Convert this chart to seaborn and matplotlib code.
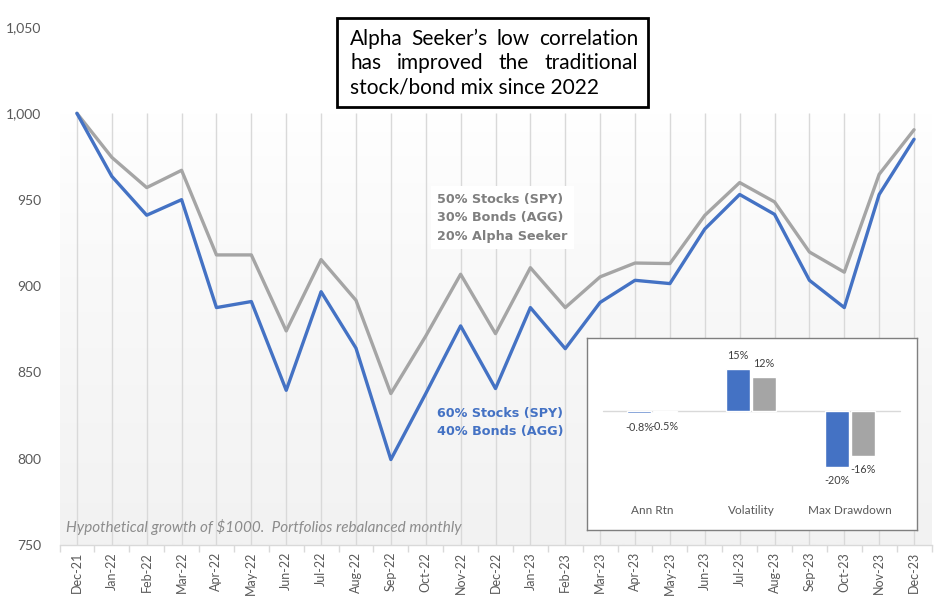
import numpy as np
import pandas as pd
import matplotlib
matplotlib.use("Agg")
import matplotlib.pyplot as plt
import seaborn as sns
from matplotlib.colors import LinearSegmentedColormap
from matplotlib.patches import Rectangle

# ---------------- data ----------------
months = ["Dec-21", "Jan-22", "Feb-22", "Mar-22", "Apr-22", "May-22", "Jun-22",
          "Jul-22", "Aug-22", "Sep-22", "Oct-22", "Nov-22", "Dec-22", "Jan-23",
          "Feb-23", "Mar-23", "Apr-23", "May-23", "Jun-23", "Jul-23", "Aug-23",
          "Sep-23", "Oct-23", "Nov-23", "Dec-23"]
mix_60_40 = [1000, 963.5, 941, 950, 887.5, 891, 839.6, 896.7, 864, 799.5, 837.7,
             876.9, 840.6, 887.5, 863.7, 890.5, 903.3, 901.4, 933, 953, 941.5,
             903.3, 887.5, 953, 985]
mix_alpha = [1000, 974.5, 957, 967, 918, 918, 874, 915.3, 891.7, 837.7, 871,
             906.8, 872.4, 910.6, 887.5, 905.3, 913.3, 913, 940.9, 959.9, 948.7,
             919.7, 908, 964.7, 990.5]
y_ticks = [750, 800, 850, 900, 950, 1000, 1050]

stat_names = ["Ann Rtn", "Volatility", "Max Drawdown"]
stat_60_40 = [-0.8, 15, -20]
stat_alpha = [-0.5, 12, -16]

title_lines = ["Alpha Seeker\u2019s low correlation",
               "has improved the traditional",
               "stock/bond mix since 2022"]
label_alpha = "50% Stocks (SPY)\n30% Bonds (AGG)\n20% Alpha Seeker"
label_6040 = "60% Stocks (SPY)\n40% Bonds (AGG)"
note = "Hypothetical growth of $1000.  Portfolios rebalanced monthly"

BLUE = "#4472C4"
GRAY = "#A5A5A5"
TXT = "#595959"

sns.set_theme(style="white")
plt.rcParams["font.family"] = ["Lato", "DejaVu Sans"]

W, H = 942, 613
fig = plt.figure(figsize=(W / 100, H / 100), dpi=100)
fig.patch.set_facecolor("white")

def fx(px):
    return px / W

def fy(py):
    return 1 - py / H

# main axes: x from 59.5 to 931.5 px, y from 27 (1050) to 545 (750)
ax = fig.add_axes([fx(59.5), fy(545), fx(931.5 - 59.5), (545 - 27) / H])
ax.set_facecolor("none")

# gradient background (plot area fill): white at top, light gray at bottom
cmap = LinearSegmentedColormap.from_list("bg", ["#ffffff", "#f2f2f2"])
grad = np.linspace(1, 0, 256).reshape(-1, 1) ** 0.8
ax.imshow(grad, cmap=cmap, aspect="auto", extent=(-0.5, len(months) - 0.5, 750, 1000),
          origin="lower", zorder=0, interpolation="bilinear")
ax.set_xlim(-0.5, len(months) - 0.5)
ax.set_ylim(750, 1050)

# vertical gridlines
x = np.arange(len(months))
ax.vlines(x, 750, 1000, color="#d9d9d9", lw=1, zorder=1)

df = pd.DataFrame({"x": np.concatenate([x, x]),
                   "value": mix_60_40 + mix_alpha,
                   "series": ["60/40"] * len(x) + ["alpha"] * len(x)})
sns.lineplot(data=df, x="x", y="value", hue="series",
             palette={"60/40": BLUE, "alpha": GRAY},
             hue_order=["alpha", "60/40"], lw=2.4, legend=False, ax=ax, zorder=3)

ax.set_xlabel("")
ax.set_ylabel("")
ax.set_xticks(x)
ax.set_xticklabels(months, rotation=90, fontsize=9, color=TXT)
ax.set_xticks(np.arange(-0.5, len(months), 1), minor=True)
ax.tick_params(axis="x", which="major", length=0, pad=5)
ax.tick_params(axis="x", which="minor", length=5, color="#d9d9d9", width=1, bottom=True)
ax.set_yticks(y_ticks)
ax.set_yticklabels([f"{v:,}" for v in y_ticks], fontsize=10, color=TXT)
ax.tick_params(axis="y", length=0, pad=13)
for s in ["top", "right", "left"]:
    ax.spines[s].set_visible(False)
ax.spines["bottom"].set_color("#d9d9d9")
ax.spines["bottom"].set_linewidth(1)

# series labels
ax.text(10.32, 939.5, label_alpha, color="#7f7f7f", fontsize=9.2, fontweight="bold",
        family="DejaVu Sans", va="center", ha="left", linespacing=1.55, zorder=5,
        bbox=dict(boxstyle="square,pad=0.5", fc="white", ec="none"))
ax.text(10.32, 821, label_6040, color=BLUE, fontsize=9.2, fontweight="bold",
        family="DejaVu Sans", va="center", ha="left", linespacing=1.55, zorder=5)
ax.text(-0.3, 760.5, note, color="#8c8c8c", fontsize=11, style="italic",
        va="center", ha="left", zorder=5)

# ---------------- title box ----------------
fig.patches.append(Rectangle((fx(337), fy(107)), fx(648 - 337), (107 - 18) / H,
                             transform=fig.transFigure, fc="white", ec="black",
                             lw=2, zorder=10))
fig.canvas.draw()
renderer = fig.canvas.get_renderer()
left_px, right_px = 350, 638
line_y = [39, 63, 88]
for i, line in enumerate(title_lines):
    words = line.split(" ")
    if i < len(title_lines) - 1:
        texts = [fig.text(0, fy(line_y[i]), w, fontsize=15, va="center", ha="left",
                          color="black", zorder=11) for w in words]
        widths = [t.get_window_extent(renderer).width for t in texts]
        gap = (right_px - left_px - sum(widths)) / (len(words) - 1)
        pos = left_px
        for t, wdt in zip(texts, widths):
            t.set_x(fx(pos))
            pos += wdt + gap
    else:
        fig.text(fx(left_px), fy(line_y[i]), line, fontsize=15, va="center",
                 ha="left", color="black", zorder=11)

# ---------------- inset bar chart ----------------
box_l, box_r, box_t, box_b = 587, 917, 338, 530
ppu_x = 99.0
c0 = 652.0
zero_py = 411.0
ppu_y = 2.8
iax = fig.add_axes([fx(box_l), fy(box_b), fx(box_r - box_l), (box_b - box_t) / H])
iax.set_facecolor("white")

bdf = pd.DataFrame({"stat": stat_names * 2,
                    "value": stat_60_40 + stat_alpha,
                    "series": ["60/40"] * 3 + ["alpha"] * 3})
sns.barplot(data=bdf, x="stat", y="value", hue="series", order=stat_names,
            hue_order=["60/40", "alpha"], palette={"60/40": BLUE, "alpha": GRAY},
            width=0.52, gap=0.06, saturation=1, legend=False, ax=iax, zorder=3)
iax.set_xlim((box_l - c0) / ppu_x, (box_r - c0) / ppu_x)
iax.set_ylim(-(box_b - zero_py) / ppu_y, (zero_py - box_t) / ppu_y)
x0 = (603 - box_l) / (box_r - box_l)
x1 = (900 - box_l) / (box_r - box_l)
iax.axhline(0, xmin=x0, xmax=x1, color="#d9d9d9", lw=1, zorder=2)

def pct(v):
    return f"{v:.1f}%" if abs(v) < 1 else f"{v:.0f}%"

for cont in iax.containers:
    iax.bar_label(cont, fmt=pct, fontsize=7.8, color="#404040", padding=6)

y_lab = -(511 - zero_py) / ppu_y
for i, name in enumerate(stat_names):
    iax.text(i, y_lab, name, fontsize=8.5, color=TXT, ha="center", va="center")

iax.set_xticks([])
iax.set_yticks([])
iax.set_xlabel("")
iax.set_ylabel("")
for s in iax.spines.values():
    s.set_visible(True)
    s.set_color("#7f7f7f")
    s.set_linewidth(1)

fig.savefig("out.png", dpi=100)
